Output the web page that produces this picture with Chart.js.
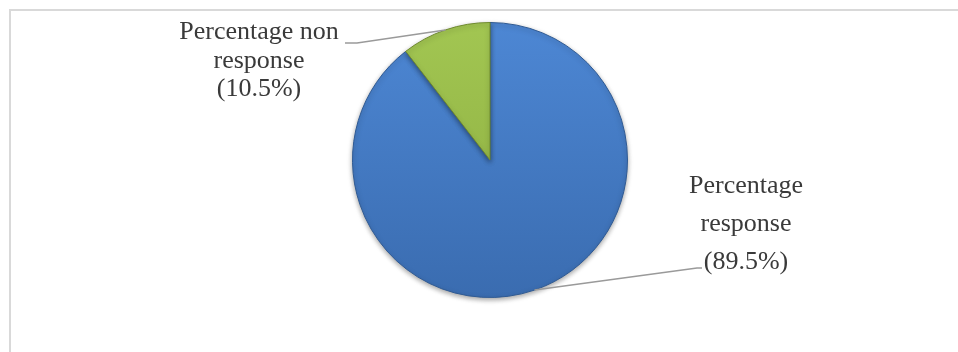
<!DOCTYPE html>
<html>
<head>
<meta charset="utf-8">
<script src="https://cdn.jsdelivr.net/npm/chart.js@4/dist/chart.umd.min.js"></script>
<style>
  html, body { margin: 0; padding: 0; background: #fff; }
  #wrap { position: absolute; left: 0; top: 0; width: 958px; height: 352px; }
  #frame { position: absolute; left: 9px; top: 9px; right: 0; bottom: 0;
           border-top: 2px solid #d9d9d9; border-left: 2px solid #d9d9d9; }
</style>
</head>
<body>
<div id="wrap">
  <div id="frame"></div>
  <canvas id="pie" width="958" height="352"></canvas>
</div>
<script>
// data
const categories = ["Percentage response", "Percentage non response"];
const values = [89.5, 10.5];
// how each category name is broken over lines in its label
const labelLines = [["Percentage", "response"], ["Percentage non", "response"]];

const topColors = ["#4d87d4", "#a2c652"];
const bottomColors = ["#3a6cb0", "#8aab3e"];
const edgeColors = ["#2f5a93", "#6f8a2f"];

document.addEventListener("DOMContentLoaded", function() {
    const ctx = document.getElementById("pie").getContext("2d");

    function sliceFill(context) {
        const area = context.chart.chartArea;
        if (!area) return topColors[context.dataIndex];
        const g = context.chart.ctx.createLinearGradient(0, area.top, 0, area.bottom);
        g.addColorStop(0, topColors[context.dataIndex]);
        g.addColorStop(1, bottomColors[context.dataIndex]);
        return g;
    }

    // soft shadow under the pie
    const shadowPlugin = {
        id: "shadow",
        beforeDatasetsDraw(chart) {
            chart.ctx.save();
            chart.ctx.shadowColor = "rgba(0,0,0,0.35)";
            chart.ctx.shadowBlur = 5;
            chart.ctx.shadowOffsetY = 2;
        },
        afterDatasetsDraw(chart) {
            chart.ctx.restore();
        }
    };

    // label boxes: centre x, first baseline, line step, leader elbow
    const labelPlaces = [
        { cx: 746, y: 193, step: 38, elbowX: 697, elbowY: 268, endX: 702 },
        { cx: 259, y: 39, step: 28.5, elbowX: 357, elbowY: 43, endX: 345 }
    ];

    const labelPlugin = {
        id: "sliceLabels",
        afterDatasetsDraw(chart) {
            const c = chart.ctx;
            const meta = chart.getDatasetMeta(0);
            const total = values.reduce((a, b) => a + b, 0);
            meta.data.forEach(function(arc, i) {
                const p = labelPlaces[i];
                const mid = (arc.startAngle + arc.endAngle) / 2;
                const ex = arc.x + arc.outerRadius * Math.cos(mid);
                const ey = arc.y + arc.outerRadius * Math.sin(mid);
                c.save();
                c.strokeStyle = "#9a9a9a";
                c.lineWidth = 1.5;
                c.beginPath();
                c.moveTo(ex, ey);
                c.lineTo(p.elbowX, p.elbowY);
                c.lineTo(p.endX, p.elbowY);
                c.stroke();

                c.fillStyle = "#3a3a3a";
                c.font = "26px 'Liberation Serif', 'Times New Roman', serif";
                c.textAlign = "center";
                c.textBaseline = "alphabetic";
                const pct = (values[i] / total * 100).toFixed(1);
                const lines = labelLines[i].concat(["(" + pct + "%)"]);
                lines.forEach(function(t, k) {
                    c.fillText(t, p.cx, p.y + k * p.step);
                });
                c.restore();
            });
        }
    };

    new Chart(ctx, {
        type: "pie",
        data: {
            labels: categories,
            datasets: [{
                data: values,
                backgroundColor: sliceFill,
                borderColor: edgeColors,
                borderWidth: 1
            }]
        },
        options: {
            responsive: false,
            animation: false,
            layout: { padding: { top: 22, bottom: 54, left: 300, right: 278 } },
            plugins: {
                legend: { display: false },
                tooltip: { enabled: false }
            }
        },
        plugins: [shadowPlugin, labelPlugin]
    });
});
</script>
</body>
</html>
